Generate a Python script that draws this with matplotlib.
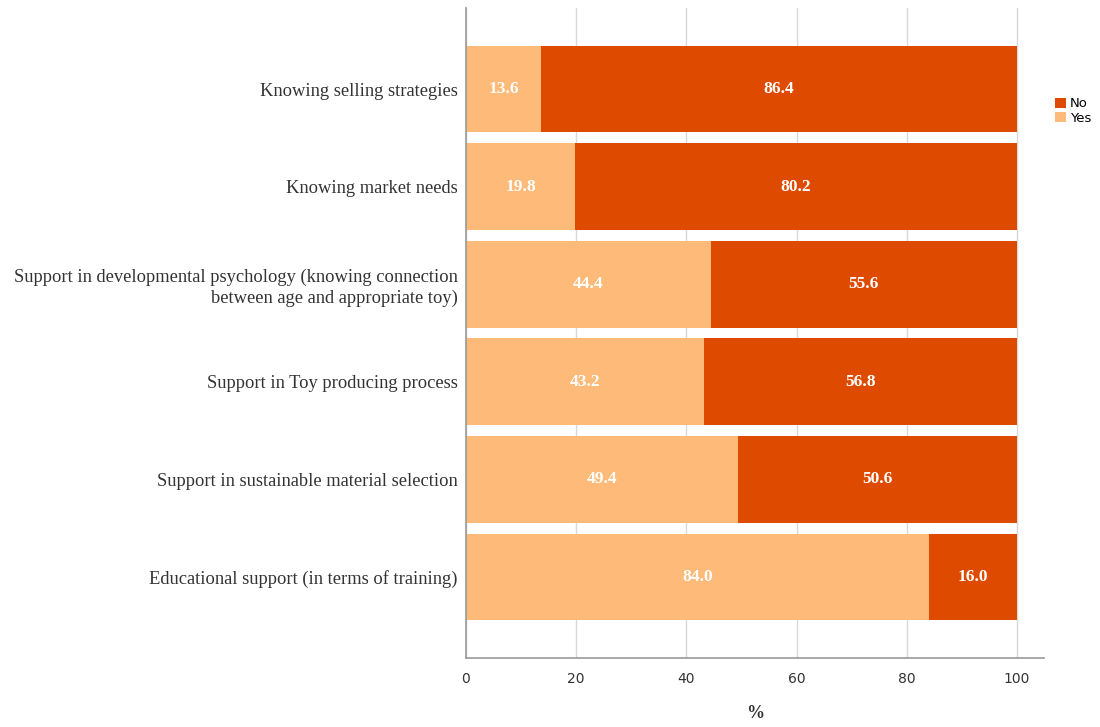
import matplotlib
matplotlib.use("Agg")
import matplotlib.pyplot as plt
from matplotlib.patches import Patch

categories = [
    "Knowing selling strategies",
    "Knowing market needs",
    "Support in developmental psychology (knowing connection\nbetween age and appropriate toy)",
    "Support in Toy producing process",
    "Support in sustainable material selection",
    "Educational support (in terms of training)",
]
yes_values = [13.6, 19.8, 44.4, 43.2, 49.4, 84.0]
no_values = [86.4, 80.2, 55.6, 56.8, 50.6, 16.0]
x_ticks = [0, 20, 40, 60, 80, 100]

yes_color = "#FDBA78"
no_color = "#DD4A00"

fig = plt.figure(figsize=(11, 7.27), dpi=100)
ax = fig.add_axes([0.4236, 0.0949, 0.5255, 0.894])

ypos = list(range(len(categories)))
bar_h = 0.89
ax.barh(ypos, yes_values, height=bar_h, color=yes_color, zorder=2)
ax.barh(ypos, no_values, left=yes_values, height=bar_h, color=no_color, zorder=2)

for y, yv, nv in zip(ypos, yes_values, no_values):
    ax.text(yv / 2, y, f"{yv:.1f}", ha="center", va="center", color="white",
            fontsize=12.5, fontweight="bold", family="Liberation Serif", zorder=3)
    ax.text(yv + nv / 2, y, f"{nv:.1f}", ha="center", va="center", color="white",
            fontsize=12.5, fontweight="bold", family="Liberation Serif", zorder=3)

ax.set_ylim(len(categories) - 1 + 0.83, -0.83)
ax.set_xlim(0, 104.9)
ax.set_yticks(ypos)
ax.set_yticklabels(categories, family="Liberation Serif", fontsize=13.3, color="#333333",
                   linespacing=1.25)
ax.set_xticks(x_ticks)
ax.set_xticklabels([str(t) for t in x_ticks], family="DejaVu Sans", fontsize=10, color="#333333")
ax.tick_params(axis="y", length=0, pad=6)
ax.tick_params(axis="x", length=0, pad=10)

ax.xaxis.grid(True, color="#d9d9d9", linewidth=1, zorder=0)
ax.set_axisbelow(True)
for side in ("top", "right"):
    ax.spines[side].set_visible(False)
for side in ("left", "bottom"):
    ax.spines[side].set_color("#999999")
    ax.spines[side].set_linewidth(1.2)

ax.set_xlabel("%", family="Liberation Serif", fontsize=13, fontweight="bold", labelpad=14,
              color="#333333")

handles = [Patch(facecolor=no_color, label="No"), Patch(facecolor=yes_color, label="Yes")]
fig.legend(handles=handles, loc="upper left", bbox_to_anchor=(0.9535, 0.875),
           frameon=False, fontsize=9.5, handlelength=0.8, handleheight=0.8,
           handletextpad=0.3, labelspacing=0.1, borderpad=0)

fig.savefig("out.png", dpi=100)
